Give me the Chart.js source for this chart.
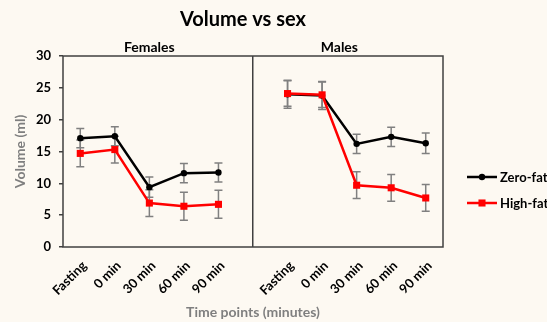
<!DOCTYPE html>
<html><head><meta charset="utf-8">
<script src="https://cdn.jsdelivr.net/npm/chart.js@4/dist/chart.umd.min.js"></script>
<style>
html,body{margin:0;padding:0;background:#fdf9f2;overflow:hidden}
#wrap{width:547px;height:322px;position:relative}
</style>
</head><body><div id="wrap"><canvas id="c" width="547" height="322"></canvas></div>
<script>
// Time points measured in each group
const timePoints = ['Fasting', '0 min', '30 min', '60 min', '90 min'];
const groups = ['Females', 'Males'];
const seriesNames = ['Zero-fat', 'High-fat'];

// Mean volume (ml) and error (±) per time point
const femaleZeroFat    = [17.1, 17.4, 9.4, 11.6, 11.7];
const femaleZeroFatErr = [1.5, 1.5, 1.6, 1.5, 1.5];
const femaleHighFat    = [14.7, 15.3, 6.9, 6.4, 6.7];
const femaleHighFatErr = [2.1, 2.1, 2.1, 2.2, 2.2];
const maleZeroFat      = [24.0, 23.8, 16.2, 17.3, 16.3];
const maleZeroFatErr   = [2.2, 2.2, 1.5, 1.5, 1.6];
const maleHighFat      = [24.1, 23.9, 9.7, 9.3, 7.7];
const maleHighFatErr   = [2.0, 2.0, 2.1, 2.1, 2.1];

const yTicks = [0, 5, 10, 15, 20, 25, 30];

// One category axis: females, an empty divider slot, then males
const labels = [...timePoints, '', ...timePoints];
const join = (a, b) => [...a, null, ...b];
const dividerIndex = timePoints.length;

const FONT = 'Lato, "Open Sans", sans-serif';

const errorBars = {
  id: 'errorBars',
  beforeDatasetsDraw(chart) {
    const ctx = chart.ctx, y = chart.scales.y;
    ctx.save();
    ctx.strokeStyle = '#808080';
    ctx.lineWidth = 1.5;
    chart.data.datasets.forEach((ds, di) => {
      const meta = chart.getDatasetMeta(di);
      ds.errors.forEach((e, i) => {
        const v = ds.data[i];
        if (v == null || e == null) return;
        const x = meta.data[i].x;
        const yt = y.getPixelForValue(v + e), yb = y.getPixelForValue(v - e);
        ctx.beginPath();
        ctx.moveTo(x, yt); ctx.lineTo(x, yb);
        ctx.moveTo(x - 4, yt); ctx.lineTo(x + 4, yt);
        ctx.moveTo(x - 4, yb); ctx.lineTo(x + 4, yb);
        ctx.stroke();
      });
    });
    ctx.restore();
  }
};

const decorations = {
  id: 'decorations',
  afterDraw(chart) {
    const ctx = chart.ctx, a = chart.chartArea, x = chart.scales.x;
    ctx.save();
    // frame
    ctx.strokeStyle = '#404040';
    ctx.lineWidth = 1.5;
    ctx.strokeRect(a.left, a.top, a.right - a.left, a.bottom - a.top);
    // title
    ctx.fillStyle = '#000';
    ctx.textAlign = 'center';
    ctx.textBaseline = 'alphabetic';
    ctx.font = 'bold 20px ' + FONT;
    ctx.fillText('Volume vs sex', 243, 26);
    // panel headings
    ctx.font = 'bold 14px ' + FONT;
    ctx.fillText(groups[0], x.getPixelForValue(2), 52);
    ctx.fillText(groups[1], (x.getPixelForValue(7) + x.getPixelForValue(8)) / 2, 52);
    // legend
    const rows = [177, 203];
    chart.data.datasets.forEach((ds, i) => {
      const ly = rows[i];
      ctx.strokeStyle = ds.borderColor;
      ctx.lineWidth = ds.borderWidth;
      ctx.beginPath(); ctx.moveTo(467, ly); ctx.lineTo(497, ly); ctx.stroke();
      ctx.fillStyle = ds.pointBackgroundColor;
      Chart.helpers.drawPoint(ctx, {pointStyle: ds.pointStyle, radius: ds.pointRadius, borderWidth: 0}, 482, ly);
      ctx.fillStyle = '#000';
      ctx.font = 'bold 13px ' + FONT;
      ctx.textAlign = 'left';
      ctx.textBaseline = 'middle';
      ctx.fillText(ds.label, 500, ly + 1);
    });
    ctx.restore();
  }
};

new Chart(document.getElementById('c'), {
  type: 'line',
  data: {
    labels,
    datasets: [
      {
        label: seriesNames[0],
        data: join(femaleZeroFat, maleZeroFat),
        errors: join(femaleZeroFatErr, maleZeroFatErr),
        borderColor: '#000', backgroundColor: '#000',
        pointBackgroundColor: '#000', pointBorderColor: '#000',
        borderWidth: 2.5, pointStyle: 'circle', pointRadius: 3.2, pointBorderWidth: 0,
        spanGaps: false, order: 1
      },
      {
        label: seriesNames[1],
        data: join(femaleHighFat, maleHighFat),
        errors: join(femaleHighFatErr, maleHighFatErr),
        borderColor: '#ff0000', backgroundColor: '#ff0000',
        pointBackgroundColor: '#ff0000', pointBorderColor: '#ff0000',
        borderWidth: 2.5, pointStyle: 'rect', pointRadius: 5, pointBorderWidth: 0,
        spanGaps: false, order: 0
      }
    ]
  },
  options: {
    responsive: false,
    animation: false,
    devicePixelRatio: 1,
    layout: {padding: {top: 56, right: 104, left: 0, bottom: 0}},
    plugins: {legend: {display: false}, tooltip: {enabled: false}, title: {display: false}},
    scales: {
      x: {
        type: 'category',
        offset: true,
        border: {display: false},
        grid: {
          offset: false,
          drawTicks: false,
          color: c => c.index === dividerIndex ? '#404040' : 'rgba(0,0,0,0)',
          lineWidth: 1.5
        },
        ticks: {
          autoSkip: false, minRotation: 45, maxRotation: 45, padding: 11, labelOffset: 4,
          color: '#000', font: {family: FONT, size: 13, weight: 'bold'}
        },
        title: {
          display: true, text: 'Time points (minutes)', color: '#7f7f7f',
          font: {family: FONT, size: 14, weight: 'bold'}, padding: {top: 0, bottom: 1}
        },
        afterFit: s => { s.height = 75; }
      },
      y: {
        min: yTicks[0], max: yTicks[yTicks.length - 1],
        afterBuildTicks: s => { s.ticks = yTicks.map(v => ({value: v})); },
        border: {display: false},
        grid: {drawOnChartArea: false, drawTicks: true, tickLength: 4, color: '#404040', lineWidth: 1.5},
        ticks: {padding: 8, color: '#000', font: {family: FONT, size: 13, weight: 'bold'}},
        title: {
          display: true, text: 'Volume (ml)', color: '#7f7f7f',
          font: {family: FONT, size: 14, weight: 'bold'}, padding: {top: 12, bottom: 0}
        },
        afterFit: s => { s.width = 63; }
      }
    }
  },
  plugins: [errorBars, decorations]
});
</script>
</body></html>
